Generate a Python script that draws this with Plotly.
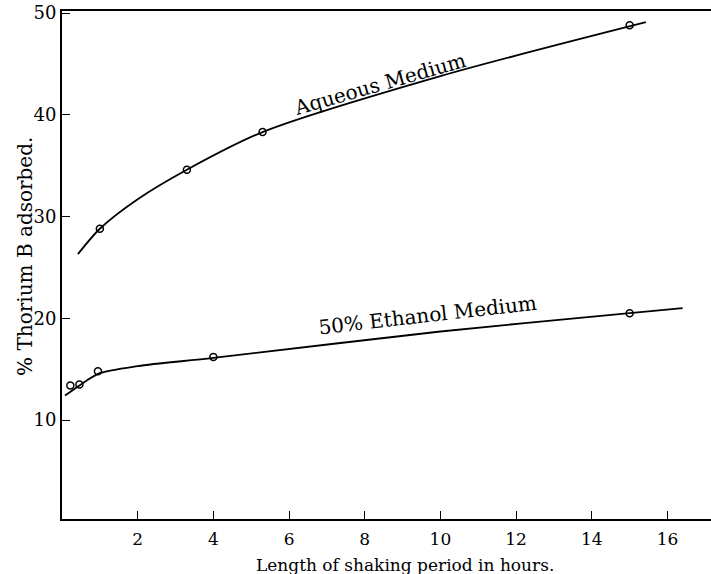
import plotly.graph_objects as go

# Measured points
aq_x = [1.0, 3.3, 5.3, 15.0]
aq_y = [28.8, 34.6, 38.3, 48.8]
et_x = [0.22, 0.46, 0.95, 4.0, 15.0]
et_y = [13.4, 13.5, 14.8, 16.2, 20.5]

# Hand-drawn smooth curves
aq_curve_x = [0.42, 1.0, 2.0, 3.3, 5.3, 10.0, 15.43]
aq_curve_y = [26.3, 28.8, 31.7, 34.6, 38.3, 43.8, 49.1]
et_curve_x = [0.08, 0.5, 1.0, 2.0, 4.0, 10.0, 15.0, 16.4]
et_curve_y = [12.4, 13.5, 14.6, 15.3, 16.1, 18.7, 20.5, 21.0]

x_ticks = [2, 4, 6, 8, 10, 12, 14, 16]
y_ticks = [10, 20, 30, 40, 50]

FONT = "DejaVu Serif"

fig = go.Figure()
for cx, cy in [(aq_curve_x, aq_curve_y), (et_curve_x, et_curve_y)]:
    fig.add_trace(go.Scatter(x=cx, y=cy, mode="lines",
                             line=dict(color="black", width=1.8, shape="spline", smoothing=0.8),
                             hoverinfo="skip", showlegend=False))
for px, py in [(aq_x, aq_y), (et_x, et_y)]:
    fig.add_trace(go.Scatter(x=px, y=py, mode="markers",
                             marker=dict(symbol="circle-open", size=7, color="black",
                                         line=dict(width=1.5, color="black")),
                             showlegend=False))

fig.add_annotation(x=8.4, y=43.0, text="Aqueous Medium", showarrow=False,
                   textangle=-16, font=dict(family=FONT, size=20, color="black"))
fig.add_annotation(x=9.67, y=20.3, text="50% Ethanol Medium", showarrow=False,
                   textangle=-6.5, font=dict(family=FONT, size=20, color="black"))

# Axis titles (plot area: 649 x 508 px)
fig.add_annotation(xref="paper", yref="paper", x=0.528, y=-0.0906,
                   text="Length of shaking period in hours.", showarrow=False,
                   xanchor="center", yanchor="middle",
                   font=dict(family=FONT, size=17, color="black"))
fig.add_annotation(xref="paper", yref="paper", x=-0.057, y=0.516,
                   text="% Thorium B adsorbed.", showarrow=False, textangle=-90,
                   xanchor="center", yanchor="middle",
                   font=dict(family=FONT, size=20, color="black"))

fig.update_layout(
    width=711, height=574,
    margin=dict(l=62, r=0, t=11, b=55),
    paper_bgcolor="white", plot_bgcolor="white",
    font=dict(family=FONT, size=17, color="black"),
    showlegend=False,
)
fig.update_xaxes(range=[0, 17.15], tickvals=x_ticks, ticktext=[str(v) for v in x_ticks],
                 ticks="inside", ticklen=8, tickwidth=1.2, tickcolor="black",
                 showline=True, linecolor="black", linewidth=2, mirror=True,
                 showgrid=False, zeroline=False, automargin=False,
                 ticklabelstandoff=4, ticklabeloverflow="allow",
                 tickfont=dict(family=FONT, size=17))
fig.update_yaxes(range=[0.27, 50.2], tickvals=y_ticks, ticktext=[str(v) for v in y_ticks],
                 ticks="inside", ticklen=8, tickwidth=1.2, tickcolor="black",
                 showline=True, linecolor="black", linewidth=2, mirror=False,
                 showgrid=False, zeroline=False, automargin=False,
                 ticklabeloverflow="allow",
                 tickfont=dict(family=FONT, size=18))

# remove the default 8px body margin so the figure fills the window exactly
fig.write_html("out.html", config={"displayModeBar": False},
               post_script="document.body.style.margin='0';")
